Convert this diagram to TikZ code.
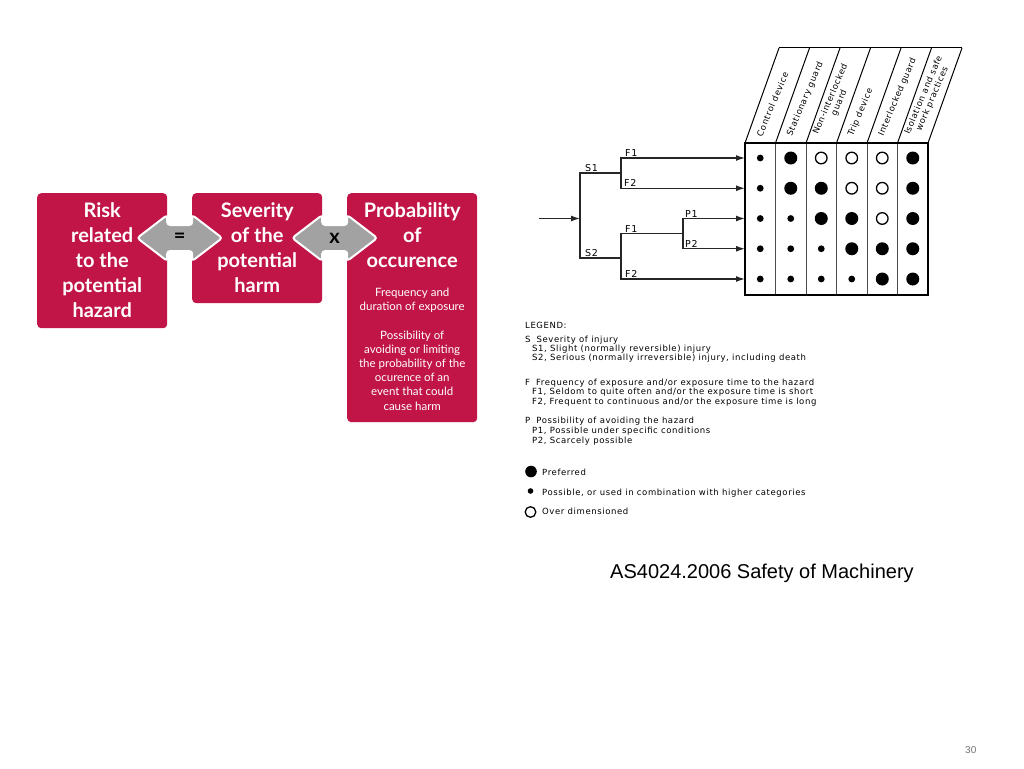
\documentclass[tikz,border=0pt]{standalone}
\usepackage{fontspec}
\setmainfont{Liberation Sans}
\newfontfamily\boxfont{Lato}
\newfontfamily\chartfont{DejaVu Sans}[LetterSpace=7]
\usepackage{tikz}
\usetikzlibrary{arrows.meta, positioning, calc}

\definecolor{hazardred}{RGB}{193,21,72}
\definecolor{linkgray}{RGB}{162,162,162}

% grey double-headed link between two boxes, centred at #1
\newcommand{\boxlink}[2]{%
  \draw[link] ($(#1)+(-42.5,0)$) -- ++(30,-23) -- ++(0,10) -- ++(25,0)
    -- ++(0,-10) -- ++(30,23) -- ++(-30,23) -- ++(0,-10) -- ++(-25,0)
    -- ++(0,10) -- cycle;
  \node[linksign] (#1-sign) at (#1) {#2};}

\begin{document}
\begin{tikzpicture}[x=1pt, y=-1pt,
  redbox/.style={fill=hazardred, rounded corners=4pt, inner sep=0pt, anchor=north west},
  boxtitle/.style={text=white, font=\boxfont\bfseries\fontsize{20}{25}\selectfont, align=center, inner sep=0pt},
  boxnote/.style={text=white, font=\boxfont\fontsize{11.5}{14.2}\selectfont, align=center, inner sep=0pt},
  link/.style={fill=linkgray, draw=white, line width=2pt, rounded corners=3pt},
  linksign/.style={font=\boxfont\bfseries\fontsize{20}{20}\selectfont, inner sep=0pt},
  gridline/.style={line width=1.3pt},
  headline/.style={line width=1pt},
  divider/.style={line width=0.8pt, black!70},
  branch/.style={line width=1.3pt, black!85, line cap=rect},
  feed/.style={branch, -{Latex[length=9pt, width=6pt]}},
  branchtag/.style={font=\chartfont\fontsize{9.5}{10}\selectfont, anchor=base west, inner sep=0pt},
  headlabel/.style={font=\chartfont\fontsize{8.5}{9.5}\selectfont, align=center, rotate=67, anchor=west, inner sep=0pt},
  legtext/.style={font=\chartfont\fontsize{8.5}{9}\selectfont, anchor=base west, inner sep=0pt},
  dots/.style={fill=black, radius=3.4pt},
  dotb/.style={fill=black, radius=6.5pt},
  doto/.style={draw=black, line width=1.3pt, fill=white, radius=5.8pt},
]
\useasboundingbox[fill=white] (0,0) rectangle (1024,768);

% -- Risk formula boxes -----------------------------------------------------
\node[redbox, minimum width=130pt, minimum height=135pt] (risk) at (37,193) {};
\node[redbox, minimum width=130pt, minimum height=110pt] (sev)  at (192,193) {};
\node[redbox, minimum width=130pt, minimum height=229pt] (prob) at (347,193) {};

\node[boxtitle, below=9.5pt of risk.north] (riskText) {Risk\\related\\to the\\potential\\hazard};
\node[boxtitle, below=9.5pt of sev.north]  (sevText)  {Severity\\of the\\potential\\harm};
\node[boxtitle, below=9.5pt of prob.north] (probText) {Probability\\of\\occurence};
\node[boxnote, below=20pt of probText.south] (probNote)
  {Frequency and\\duration of exposure\\[14.2pt]Possibility of\\avoiding or limiting\\the probability of the\\ocurence of an\\event that could\\cause harm};

% links
\coordinate (linkA) at ($(risk.north east)!0.5!(sev.north west)+(0,45)$);
\coordinate (linkB) at ($(sev.north east)!0.5!(prob.north west)+(0,45)$);
\boxlink{linkA}{=}
\boxlink{linkB}{x}

% -- Column header ----------------------------------------------------------
\foreach \i in {0,...,6}
  \draw[headline] (745+30.5*\i,143) -- ++(34,-95);
\draw[headline] (779,48) -- (962,48);
\foreach \lbl [count=\i from 0] in {Control device, Stationary guard, {Non-interlocked\\guard},
    Trip device, Interlocked guard, {Isolation and safe\\work practices}}
  \node[headlabel] (head\i) at (759+30.5*\i,136) {\lbl};

% -- Selection grid ---------------------------------------------------------
\foreach \i in {1,...,5}
  \draw[divider] (745+30.5*\i,143) -- (745+30.5*\i,295);
\draw[gridline] (745,143) rectangle (928,295);
\foreach \cells [count=\r from 0] in {{s,b,o,o,o,b},{s,b,b,o,o,b},{s,s,b,b,o,b},{s,s,s,b,b,b},{s,s,s,s,b,b}}
  \foreach \kind [count=\c from 0] in \cells
    \path[dot\kind] (760.25+30.5*\c,158+30.25*\r) circle;

% -- Decision tree ----------------------------------------------------------
\coordinate (start) at (540,218.5);
\coordinate (root)  at (580,218.5);
\coordinate (s1) at (580,173);     \coordinate (s1end) at (621,173);
\coordinate (s2) at (580,258);     \coordinate (s2end) at (621,258);
\coordinate (f1a) at (621,158);    \coordinate (f2a) at (621,188.25);
\coordinate (f1b) at (621,233.6);  \coordinate (f2b) at (621,279);
\coordinate (p0) at (683,233.6);   \coordinate (p1) at (683,218.5);
\coordinate (p2) at (683,248.75);
\foreach \r in {1,...,5}
  \coordinate (row\r) at (745,127.75+30.25*\r);

\draw[feed] (start) -- (root);
\draw[branch] (s1end) -- (s1) -- (s2) -- (s2end);
\draw[branch] (f1a) -- (f2a);
\draw[branch] (p0) -- (f1b) -- (f2b);
\draw[branch] (p1) -- (p2);
\draw[feed] (f1a) -- (row1);
\draw[feed] (f2a) -- (row2);
\draw[feed] (p1) -- (row3);
\draw[feed] (p2) -- (row4);
\draw[feed] (f2b) -- (row5);

\node[branchtag] (tagS1)  at ($(s1)+(5,-1.5)$)   {S1};
\node[branchtag] (tagS2)  at ($(s2)+(5,-1.5)$)   {S2};
\node[branchtag] (tagF1a) at ($(f1a)+(4,-1.5)$)  {F1};
\node[branchtag] (tagF2a) at ($(f2a)+(3,-1.5)$)  {F2};
\node[branchtag] (tagF1b) at ($(f1b)+(4,-1.5)$)  {F1};
\node[branchtag] (tagF2b) at ($(f2b)+(4,-1.5)$)  {F2};
\node[branchtag] (tagP1)  at ($(p1)+(2,-1.5)$)   {P1};
\node[branchtag] (tagP2)  at ($(p2)+(2,-1.5)$)   {P2};

% -- Legend -----------------------------------------------------------------
\node[legtext] (legHead) at (525,328) {LEGEND:};
\node[legtext] (legS)  at (525,342) {S\hspace{6pt}Severity of injury};
\node[legtext] (legS1) at (532,351) {S1, Slight (normally reversible) injury};
\node[legtext] (legS2) at (532,360) {S2, Serious (normally irreversible) injury, including death};
\node[legtext] (legF)  at (525,385) {F\hspace{6pt}Frequency of exposure and/or exposure time to the hazard};
\node[legtext] (legF1) at (532,394.5) {F1, Seldom to quite often and/or the exposure time is short};
\node[legtext] (legF2) at (532,404) {F2, Frequent to continuous and/or the exposure time is long};
\node[legtext] (legP)  at (525,423) {P\hspace{6pt}Possibility of avoiding the hazard};
\node[legtext] (legP1) at (532,433) {P1, Possible under specific conditions};
\node[legtext] (legP2) at (532,443) {P2, Scarcely possible};

\path[dotb, radius=5.8pt] (531,471.5) circle;
\path[dots, radius=2.8pt] (530.5,491) circle;
\path[doto, radius=5.3pt] (530.5,512) circle;
\node[legtext] (legBig)   at (542,475) {Preferred};
\node[legtext] (legSmall) at (542,495) {Possible, or used in combination with higher categories};
\node[legtext] (legOpen)  at (542,514) {Over dimensioned};

% -- Caption ----------------------------------------------------------------
\node[font=\fontsize{20}{22}\selectfont, anchor=base west, inner sep=0pt] (caption) at (610,578)
  {AS4024.2006 Safety of Machinery};
\node[font=\fontsize{10}{12}\selectfont, text=black!55, anchor=base west, inner sep=0pt] (pageNo) at (965,753) {30};

\end{tikzpicture}
\end{document}
